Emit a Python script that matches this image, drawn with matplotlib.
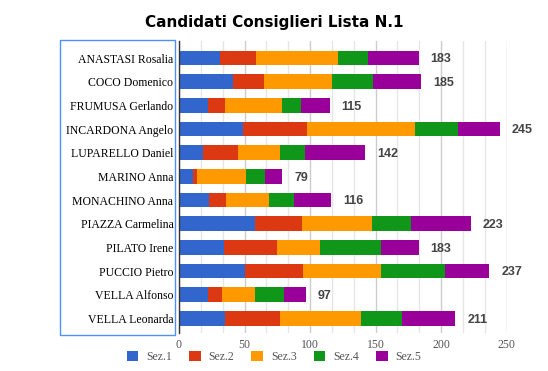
import numpy as np
import matplotlib
matplotlib.use("Agg")
import matplotlib.pyplot as plt
from matplotlib.patches import Rectangle
from matplotlib.ticker import MultipleLocator

# --- data ---
candidati = ["ANASTASI Rosalia", "COCO Domenico", "FRUMUSA Gerlando", "INCARDONA Angelo",
             "LUPARELLO Daniel", "MARINO Anna", "MONACHINO Anna", "PIAZZA Carmelina",
             "PILATO Irene", "PUCCIO Pietro", "VELLA Alfonso", "VELLA Leonarda"]
sez1 = [31, 41, 22, 49, 18, 11, 23, 58, 34, 50, 22, 35]
sez2 = [28, 24, 13, 49, 27, 3, 13, 36, 41, 45, 11, 42]
sez3 = [62, 52, 44, 82, 32, 37, 33, 53, 33, 59, 25, 62]
sez4 = [23, 31, 14, 33, 19, 15, 19, 30, 46, 49, 22, 31]
sez5 = [39, 37, 22, 32, 46, 13, 28, 46, 29, 34, 17, 41]
serie = ["Sez.1", "Sez.2", "Sez.3", "Sez.4", "Sez.5"]
colori = ["#3366cc", "#dc3912", "#ff9900", "#109618", "#990099"]

W, H = 548, 371
fig = plt.figure(figsize=(W / 100, H / 100), dpi=100)
ax = fig.add_axes([179 / W, 1 - 333 / H, (506.5 - 179) / W, (333 - 41) / H])

y = np.arange(len(candidati))
left = np.zeros(len(candidati))
handles = []
for vals, nome, col in zip([sez1, sez2, sez3, sez4, sez5], serie, colori):
    b = ax.barh(y, vals, left=left, height=0.62, color=col, label=nome, zorder=3)
    handles.append(b)
    left = left + np.array(vals)

# totals to the right of each bar
for yi, tot in zip(y, left):
    ax.annotate(f"{int(tot)}", (tot, yi), xytext=(8.6, -1.0), textcoords="offset points",
                ha="left", va="center", fontsize=9, fontweight="bold",
                family="Liberation Sans", color="#444444")

ax.set_xlim(0, 250)
ax.set_ylim(11.62, -0.72)
ax.set_yticks(y)
ax.set_yticklabels(candidati, family="Liberation Serif", fontsize=8.5, color="#000000")
ax.xaxis.set_major_locator(MultipleLocator(50))
ax.xaxis.set_minor_locator(MultipleLocator(50 / 3))
for lab in ax.get_xticklabels():
    lab.set_family("Liberation Serif")
ax.tick_params(axis="x", which="both", length=0, labelsize=8.5, labelcolor="#555555", pad=4)
ax.tick_params(axis="y", length=0, pad=4)
ax.grid(axis="x", which="major", color="#cccccc", linewidth=1, zorder=0)
ax.grid(axis="x", which="minor", color="#e6e6e6", linewidth=1, zorder=0)
for s in ["top", "right", "bottom"]:
    ax.spines[s].set_visible(False)
ax.spines["left"].set_color("#333333")
ax.spines["left"].set_linewidth(1)
ax.spines["left"].set_zorder(4)

# blue frame around the category labels
fig.patches.append(Rectangle((60 / W, 1 - 335 / H), (175 - 60) / W, (335 - 40) / H,
                             transform=fig.transFigure, fill=False,
                             edgecolor="#4d90fe", linewidth=1))

fig.text(274 / W, 1 - 23 / H, "Candidati Consiglieri Lista N.1", ha="center", va="center",
         fontsize=11, fontweight="bold", family="DejaVu Sans", color="#000000")

fig.legend(handles=handles, labels=serie, loc="center", bbox_to_anchor=(274 / W, 1 - 357 / H),
           ncol=5, frameon=False, handlelength=1.0, handleheight=1.0, handletextpad=0.65,
           columnspacing=1.45, prop={"family": "Liberation Serif", "size": 8.5},
           labelcolor="#555555")

fig.savefig("out.png", dpi=100)
